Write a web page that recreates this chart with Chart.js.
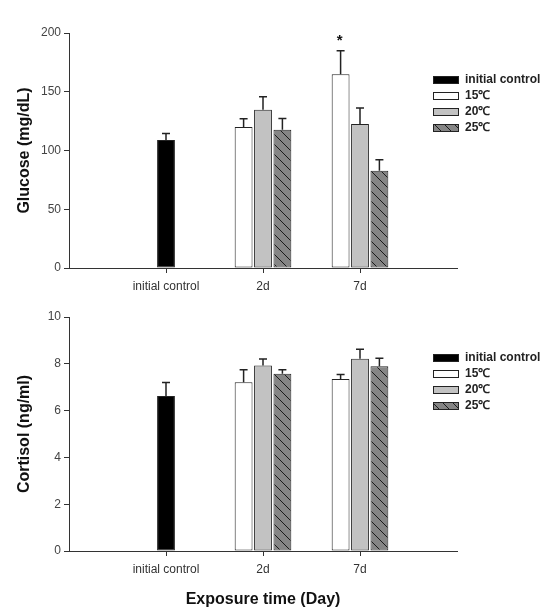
<!DOCTYPE html>
<html>
<head>
<meta charset="utf-8">
<script src="https://cdn.jsdelivr.net/npm/chart.js@4.4.0/dist/chart.umd.min.js"></script>
<style>
body{margin:0;background:#fff;}
#wrap{position:relative;width:551px;height:614px;}
canvas{position:absolute;left:0;}
</style>
</head>
<body>
<div id="wrap">
<canvas id="glucoseChart" width="551" height="300" style="top:0"></canvas>
<canvas id="cortisolChart" width="551" height="314" style="top:300px"></canvas>
</div>
<script>
// x slots: empty slot at each end so the three groups sit like the original plot
const categories = ['', 'initial control', '2d', '7d', ''];
const seriesLabels = ['initial control', '15℃', '20℃', '25℃'];

// glucose (mg/dL)
const glucoseControl = 109;
const glucoseControlErr = 5.5;
const glucose15 = [120, 165];
const glucose15Err = [7, 20];
const glucose20 = [134.7, 122.5];
const glucose20Err = [11, 13.6];
const glucose25 = [117.7, 82.8];
const glucose25Err = [9.6, 9.4];
const glucoseMarks15 = ['', '*'];
const glucoseTicks = [0, 50, 100, 150, 200];

// cortisol (ng/ml)
const cortisolControl = 6.62;
const cortisolControlErr = 0.58;
const cortisol15 = [7.21, 7.35];
const cortisol15Err = [0.54, 0.19];
const cortisol20 = [7.93, 8.22];
const cortisol20Err = [0.27, 0.4];
const cortisol25 = [7.58, 7.9];
const cortisol25Err = [0.17, 0.34];
const cortisolTicks = [0, 2, 4, 6, 8, 10];

const FONT = "'Liberation Sans', Arial, sans-serif";

function controlSlots(v) { return [null, v, null, null, null]; }
function daySlots(arr) { return [null, null, arr[0], arr[1], null]; }

function hatch() {
    const c = document.createElement('canvas');
    c.width = 10; c.height = 10;
    const p = c.getContext('2d');
    p.fillStyle = '#858585';
    p.fillRect(0, 0, 10, 10);
    p.strokeStyle = '#1a1a1a';
    p.lineWidth = 1;
    p.beginPath();
    p.moveTo(-1, -1); p.lineTo(11, 11);
    p.moveTo(-6, 4); p.lineTo(6, 16);
    p.moveTo(4, -6); p.lineTo(16, 6);
    p.stroke();
    return c.getContext('2d').createPattern(c, 'repeat');
}

const fills = ['#000000', '#ffffff', '#c2c2c2', null];

function makeDatasets(ctrl, ctrlErr, s15, e15, s20, e20, s25, e25, marks15) {
    const pat = hatch();
    const common = { borderColor: '#222', borderWidth: 1, borderSkipped: false, skipNull: true, barPercentage: 0.92 };
    return [
        Object.assign({ label: seriesLabels[0], data: controlSlots(ctrl), errors: controlSlots(ctrlErr),
            backgroundColor: fills[0], categoryPercentage: 0.2 }, common),
        Object.assign({ label: seriesLabels[1], data: daySlots(s15), errors: daySlots(e15),
            marks: marks15 ? daySlots(marks15) : null, backgroundColor: fills[1], categoryPercentage: 0.6 }, common),
        Object.assign({ label: seriesLabels[2], data: daySlots(s20), errors: daySlots(e20),
            backgroundColor: fills[2], categoryPercentage: 0.6 }, common),
        Object.assign({ label: seriesLabels[3], data: daySlots(s25), errors: daySlots(e25),
            backgroundColor: pat, categoryPercentage: 0.6 }, common)
    ];
}

// error bars (upper half only), significance marks and the side legend
const extras = {
    id: 'extras',
    afterDatasetsDraw(chart, args, opts) {
        const ctx = chart.ctx;
        const y = chart.scales.y;
        ctx.save();
        chart.data.datasets.forEach((ds, di) => {
            const meta = chart.getDatasetMeta(di);
            ds.data.forEach((v, i) => {
                if (v === null || ds.errors[i] === null) return;
                const bar = meta.data[i];
                const top = y.getPixelForValue(v + ds.errors[i]);
                ctx.strokeStyle = '#222';
                ctx.lineWidth = 1.5;
                ctx.beginPath();
                ctx.moveTo(bar.x, bar.y);
                ctx.lineTo(bar.x, top);
                ctx.moveTo(bar.x - 4, top);
                ctx.lineTo(bar.x + 4, top);
                ctx.stroke();
                if (ds.marks && ds.marks[i]) {
                    ctx.fillStyle = '#111';
                    ctx.font = 'bold 15px ' + FONT;
                    ctx.textAlign = 'center';
                    ctx.textBaseline = 'middle';
                    ctx.fillText(ds.marks[i], bar.x - 1, top - 10);
                }
            });
        });
        // legend
        ctx.font = 'bold 12px ' + FONT;
        ctx.textAlign = 'left';
        ctx.textBaseline = 'middle';
        chart.data.datasets.forEach((ds, di) => {
            const cy = opts.legendTop + di * 16;
            ctx.fillStyle = ds.backgroundColor;
            ctx.fillRect(433, cy - 4, 26, 8);
            ctx.strokeStyle = '#222';
            ctx.lineWidth = 1;
            ctx.strokeRect(433.5, cy - 3.5, 25, 7);
            ctx.fillStyle = '#222';
            ctx.fillText(ds.label, 465, cy);
        });
        ctx.restore();
    }
};

function makeChart(id, datasets, ticks, yTitle, xTitle, pad, xHeight, legendTop) {
    return new Chart(document.getElementById(id), {
        type: 'bar',
        data: { labels: categories, datasets: datasets },
        plugins: [extras],
        options: {
            responsive: false,
            animation: false,
            devicePixelRatio: 1,
            layout: { padding: pad },
            plugins: {
                legend: { display: false },
                tooltip: { enabled: false },
                extras: { legendTop: legendTop }
            },
            scales: {
                x: {
                    offset: false,
                    grid: { offset: false, drawOnChartArea: false, tickLength: 5,
                        tickColor: c => (c.index === 0 || c.index === categories.length - 1) ? 'rgba(0,0,0,0)' : '#333' },
                    border: { color: '#333', width: 1 },
                    ticks: { autoSkip: false, maxRotation: 0, color: '#333', padding: 6, font: { family: FONT, size: 12 } },
                    title: { display: !!xTitle, text: xTitle || '', color: '#111', padding: { top: 0, bottom: 5 },
                        font: { family: FONT, size: 16, weight: 'bold' } },
                    afterFit: s => { s.height = xHeight; }
                },
                y: {
                    min: ticks[0],
                    max: ticks[ticks.length - 1],
                    afterBuildTicks: s => { s.ticks = ticks.map(v => ({ value: v })); },
                    grid: { drawOnChartArea: false, tickLength: 5, color: '#333' },
                    border: { color: '#333', width: 1 },
                    ticks: { color: '#444', padding: 3, font: { family: FONT, size: 12 } },
                    title: { display: true, text: yTitle, color: '#111', padding: { top: 15, bottom: 0 },
                        font: { family: FONT, size: 16, weight: 'bold' } },
                    afterFit: s => { s.width = 69; }
                }
            }
        }
    });
}

makeChart('glucoseChart',
    makeDatasets(glucoseControl, glucoseControlErr, glucose15, glucose15Err, glucose20, glucose20Err, glucose25, glucose25Err, glucoseMarks15),
    glucoseTicks, 'Glucose (mg/dL)', null,
    { top: 33, right: 94, bottom: 0, left: 0 }, 32, 80);

makeChart('cortisolChart',
    makeDatasets(cortisolControl, cortisolControlErr, cortisol15, cortisol15Err, cortisol20, cortisol20Err, cortisol25, cortisol25Err, null),
    cortisolTicks, 'Cortisol (ng/ml)', 'Exposure time (Day)',
    { top: 17, right: 94, bottom: 0, left: 0 }, 63, 58);
</script>
</body>
</html>
